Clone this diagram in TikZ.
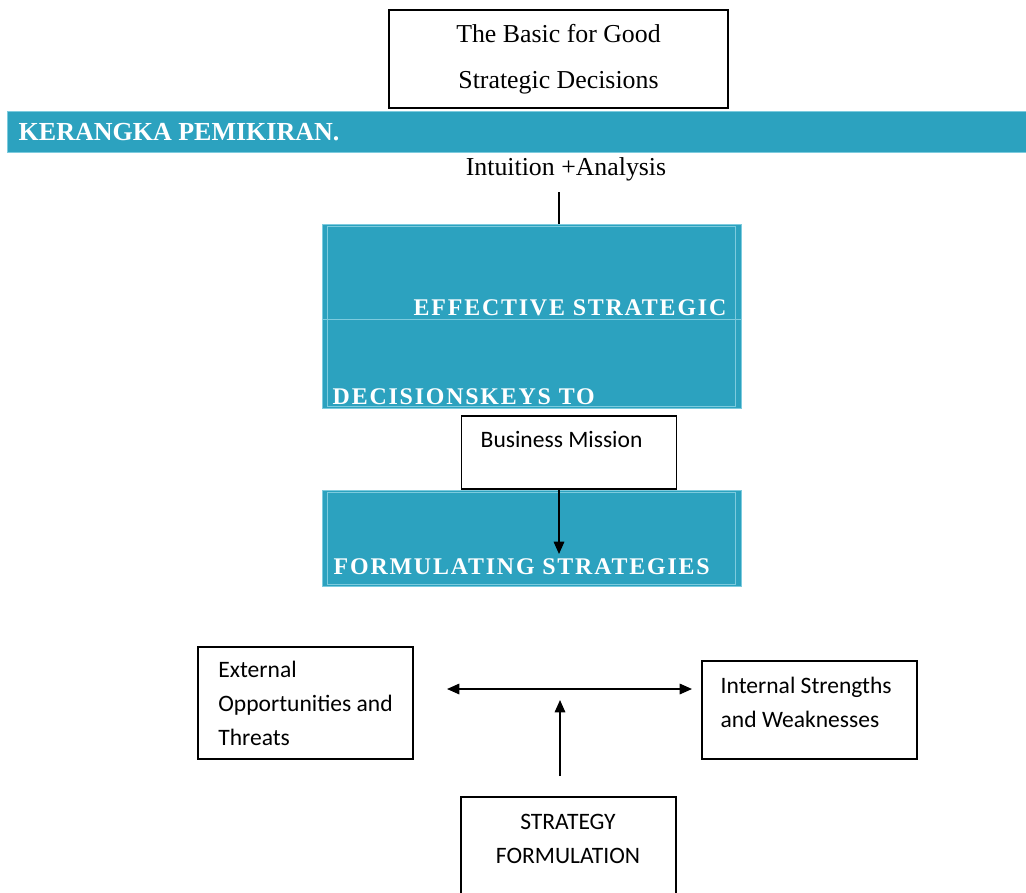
\documentclass[tikz,border=0pt]{standalone}
\usepackage{fontspec}
\setmainfont{Liberation Serif}
\newfontfamily\calfont{Carlito}
\newfontfamily\spacedfont[LetterSpace=7.6]{Liberation Serif}
\usetikzlibrary{arrows.meta}
\definecolor{tealfill}{RGB}{44,162,191}
\definecolor{tealline}{RGB}{125,203,222}

\begin{document}
\begin{tikzpicture}[x=0.02cm, y=-0.02cm, line width=0.8pt, >={Triangle[length=7pt,width=6pt]},
	box/.style={draw, line width=0.9pt, minimum width=4.3cm},
	tealbox/.style={fill=tealfill, draw=tealline, line width=0.5pt, minimum width=8.38cm},
	serif/.style={font=\fontsize{14.7}{26}\selectfont, align=center},
	cal/.style={font=\calfont\fontsize{13.4}{19.3}\selectfont},
	capsw/.style={font=\spacedfont\bfseries\fontsize{13.6}{16}\selectfont, text=white, inner sep=0pt}]
	\useasboundingbox (0,0) rectangle (1026,892);

	\node[box, serif, minimum width=6.78cm, minimum height=1.96cm] (basic) at (558.5,59) {The Basic for Good\\Strategic Decisions};

	\node[fill=tealfill, draw=tealline, line width=0.5pt, minimum width=20.6cm, minimum height=0.82cm, anchor=west, inner sep=0pt] (banner) at (7,131.5) {};
	\node[font=\bfseries\fontsize{14.8}{18}\selectfont, text=white, anchor=base west, inner sep=0pt] (kp) at (18,140) {KERANGKA PEMIKIRAN.};

	\node[serif, anchor=base] (ia) at (566,175) {Intuition +Analysis};

	\node[tealbox, minimum height=3.68cm] (eff) at (531.5,316) {};
	\draw[tealline, line width=0.4pt] ([shift={(0.12cm,-0.05cm)}]eff.north west) rectangle ([shift={(-0.12cm,0.05cm)}]eff.south east);
	\draw[tealline, line width=0.4pt] ([yshift=-0.06cm]eff.west) -- ([yshift=-0.06cm]eff.east);
	\node[capsw, anchor=base east] (es) at (727,315) {EFFECTIVE STRATEGIC};
	\node[capsw, anchor=base west] (dk) at (332,404) {DECISIONSKEYS TO};

	\node[box, minimum height=1.46cm] (bm) at (569,452.5) {};
	\node[cal, anchor=base west, inner sep=0pt] (bmt) at (480,447) {Business Mission};

	\node[tealbox, minimum height=1.92cm] (form) at (531.5,538) {};
	\draw[tealline, line width=0.4pt] ([shift={(0.12cm,-0.05cm)}]form.north west) rectangle ([shift={(-0.12cm,0.05cm)}]form.south east);
	\node[capsw, anchor=base west] (fs) at (333,574) {FORMULATING STRATEGIES};

	\coordinate (top) at (559,192);
	\coordinate (tip) at (559,554);
	\draw (top) -- (top |- eff.north);
	\draw[->] (bm.south -| tip) -- (tip);

	\node[box, cal, minimum height=2.24cm, align=left] (ext) at (305.5,703) {External\\Opportunities and\\Threats};
	\node[box, minimum height=1.96cm] (int) at (809.5,710) {};
	\node[cal, align=left, anchor=base west, inner sep=0pt] (intt) at (720,727) {Internal Strengths\\and Weaknesses};

	\node[box, minimum height=2.08cm] (strat) at (568.5,849) {};
	\node[cal, align=center] (stratt) at (568,839) {STRATEGY\\FORMULATION};

	\coordinate (lt) at (447,689);
	\coordinate (rt) at (692,689);
	\coordinate (upbase) at (560,776);
	\coordinate (up) at (560,700);
	\draw[<->] (lt) -- (rt);
	\draw[->] (upbase) -- (up);
\end{tikzpicture}
\end{document}
